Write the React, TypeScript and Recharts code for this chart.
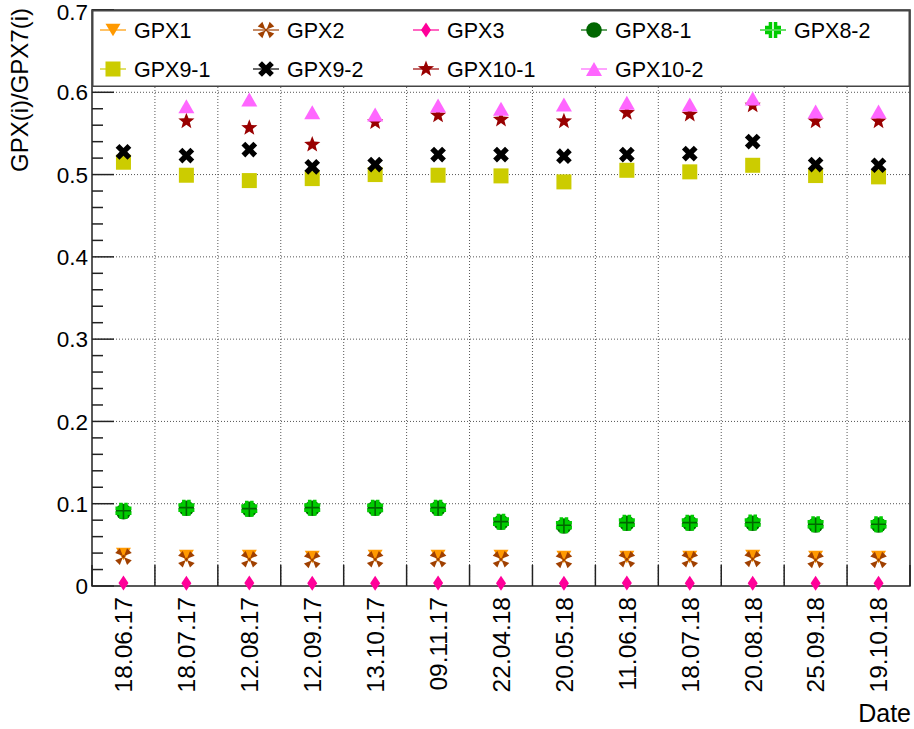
import React from 'react';
import { ScatterChart, Scatter, XAxis, YAxis, ReferenceLine, ReferenceArea, Label } from 'recharts';

const dates = ['18.06.17', '18.07.17', '12.08.17', '12.09.17', '13.10.17', '09.11.17', '22.04.18', '20.05.18', '11.06.18', '18.07.18', '20.08.18', '25.09.18', '19.10.18'];

const gpx1 = [0.0389, 0.0365, 0.0365, 0.0353, 0.0365, 0.0365, 0.0365, 0.0353, 0.0353, 0.0353, 0.0365, 0.0353, 0.0353];
const gpx2 = [0.0357, 0.0324, 0.0324, 0.0316, 0.0324, 0.0324, 0.0324, 0.0316, 0.0324, 0.0324, 0.0328, 0.0316, 0.0316];
const gpx3 = [0.0035, 0.0034, 0.0035, 0.0034, 0.0034, 0.0035, 0.0034, 0.0034, 0.0035, 0.0034, 0.0034, 0.0034, 0.0034];
const gpx81 = [0.0904, 0.0945, 0.0933, 0.0945, 0.0945, 0.0945, 0.0775, 0.0730, 0.0763, 0.0763, 0.0763, 0.0742, 0.0742];
const gpx82 = [0.0915, 0.0952, 0.0940, 0.0952, 0.0950, 0.0952, 0.0782, 0.0738, 0.0770, 0.0770, 0.0772, 0.0750, 0.0750];
const gpx91 = [0.5150, 0.4992, 0.4927, 0.4951, 0.5000, 0.4992, 0.4984, 0.4911, 0.5052, 0.5033, 0.5113, 0.4988, 0.4972];
const gpx92 = [0.5276, 0.5231, 0.5304, 0.5094, 0.5122, 0.5243, 0.5243, 0.5223, 0.5243, 0.5255, 0.5401, 0.5122, 0.5113];
const gpx101 = [null, 0.5648, 0.5568, 0.5365, 0.5636, 0.5718, 0.5669, 0.5648, 0.5751, 0.5730, 0.5840, 0.5648, 0.5648];
const gpx102 = [null, 0.5831, 0.5912, 0.5758, 0.5730, 0.5839, 0.5799, 0.5852, 0.5872, 0.5852, 0.5925, 0.5766, 0.5766];

const yTicks = [0, 0.02, 0.04, 0.06, 0.08, 0.1, 0.12, 0.14, 0.16, 0.18, 0.2, 0.22, 0.24, 0.26, 0.28, 0.3, 0.32, 0.34, 0.36, 0.38, 0.4, 0.42, 0.44, 0.46, 0.48, 0.5, 0.52, 0.54, 0.56, 0.58, 0.6, 0.62, 0.64, 0.66, 0.68, 0.7];
const xTicks = [0, 0.5, 1, 1.5, 2, 2.5, 3, 3.5, 4, 4.5, 5, 5.5, 6, 6.5, 7, 7.5, 8, 8.5, 9, 9.5, 10, 10.5, 11, 11.5, 12, 12.5, 13];
const gridY = [0.1, 0.2, 0.3, 0.4, 0.5, 0.6];
const gridX = [1, 2, 3, 4, 5, 6, 7, 8, 9, 10, 11, 12];

const FONT = '"Liberation Sans", Arial, Helvetica, sans-serif';
const AXIS = '#222';

type Shape = 'triDown' | 'fourTriX' | 'diamond' | 'circle' | 'fourSqPlus' | 'square' | 'crossX' | 'star' | 'triUp';

const series: { name: string; values: (number | null)[]; color: string; shape: Shape }[] = [
  { name: 'GPX1', values: gpx1, color: '#ff9900', shape: 'triDown' },
  { name: 'GPX2', values: gpx2, color: '#a04000', shape: 'fourTriX' },
  { name: 'GPX3', values: gpx3, color: '#ff0099', shape: 'diamond' },
  { name: 'GPX8-1', values: gpx81, color: '#006600', shape: 'circle' },
  { name: 'GPX8-2', values: gpx82, color: '#00cc00', shape: 'fourSqPlus' },
  { name: 'GPX9-1', values: gpx91, color: '#cccc00', shape: 'square' },
  { name: 'GPX9-2', values: gpx92, color: '#000000', shape: 'crossX' },
  { name: 'GPX10-1', values: gpx101, color: '#990000', shape: 'star' },
  { name: 'GPX10-2', values: gpx102, color: '#ff66ff', shape: 'triUp' },
];

const pts = (arr: number[][], cx: number, cy: number) => arr.map(([x, y]) => `${cx + x},${cy + y}`).join(' ');

function marker(shape: Shape, cx: number, cy: number, color: string, key?: string) {
  switch (shape) {
    case 'triDown':
      return <polygon key={key} points={pts([[-7.5, -6.3], [7.5, -6.3], [0, 6.3]], cx, cy)} fill={color} />;
    case 'triUp':
      return <polygon key={key} points={pts([[-8, 7], [8, 7], [0, -7]], cx, cy)} fill={color} />;
    case 'diamond':
      return <polygon key={key} points={pts([[0, -7.5], [5, 0], [0, 7.5], [-5, 0]], cx, cy)} fill={color} />;
    case 'circle':
      return <circle key={key} cx={cx} cy={cy} r={7.8} fill={color} />;
    case 'square':
      return <rect key={key} x={cx - 7.5} y={cy - 7.5} width={15} height={15} fill={color} />;
    case 'crossX': {
      const w = 2.7, e = 8.4;
      const p = [[-w, -e], [w, -e], [w, -w], [e, -w], [e, w], [w, w], [w, e], [-w, e], [-w, w], [-e, w], [-e, -w], [-w, -w]];
      return <polygon key={key} points={pts(p, cx, cy)} fill={color} transform={`rotate(45 ${cx} ${cy})`} />;
    }
    case 'star': {
      const p: number[][] = [];
      for (let i = 0; i < 10; i++) {
        const r = i % 2 === 0 ? 8.5 : 3.6;
        const a = -Math.PI / 2 + (i * Math.PI) / 5;
        p.push([r * Math.cos(a), r * Math.sin(a)]);
      }
      return <polygon key={key} points={pts(p, cx, cy)} fill={color} />;
    }
    case 'fourSqPlus': {
      const e = 8, a = 4.3, g = 0.8;
      const quads = [[1, 1], [1, -1], [-1, 1], [-1, -1]];
      return (
        <g key={key}>
          {quads.map(([sx, sy], i) => (
            <polygon key={i} points={pts([[g, g], [e, g], [e, a], [a, a], [a, e], [g, e]].map(([x, y]) => [x * sx, y * sy]), cx, cy)} fill={color} />
          ))}
        </g>
      );
    }
    case 'fourTriX': {
      const tris = [0, 1, 2, 3];
      return (
        <g key={key} transform={`rotate(45 ${cx} ${cy})`}>
          {tris.map((i) => (
            <polygon key={i} points={pts([[0, -0.8], [-3.3, -8.4], [3.3, -8.4]], 0, 0)} fill={color} transform={`translate(${cx} ${cy}) rotate(${i * 90})`} />
          ))}
          <rect x={cx - 1.3} y={cy - 1.3} width={2.6} height={2.6} fill={color} />
        </g>
      );
    }
  }
  return null;
}

const Y_MARGIN = 4;
const X_MARGIN = 0;

const isMajor = (v: number) => Math.abs(v * 10 - Math.round(v * 10)) < 1e-6;

const YTick = (p: any) => {
  const v = p.payload.value as number;
  const major = isMajor(v);
  const ax = p.x + Y_MARGIN;
  const top = v >= 0.7 - 1e-9;
  return (
    <g>
      <line x1={ax} x2={ax + (major ? 22 : 11)} y1={p.y} y2={p.y} stroke={AXIS} strokeWidth={1.5} />
      {major && (
        <text x={p.x} y={p.y + (top ? 1.5 : 0)} dy="0.36em" textAnchor="end" fontSize={22.5} fontFamily={FONT} fill="#000">
          {v === 0 ? '0' : v.toFixed(1)}
        </text>
      )}
    </g>
  );
};

const XTick = (p: any) => {
  const v = p.payload.value as number;
  const ay = p.y - X_MARGIN;
  if (Number.isInteger(v)) {
    return <line x1={p.x} x2={p.x} y1={ay} y2={ay - 21} stroke={AXIS} strokeWidth={1.5} />;
  }
  const label = dates[Math.floor(v)];
  const ty = ay + 11;
  return (
    <text x={p.x} y={ty} dy="0.36em" textAnchor="end" transform={`rotate(-90 ${p.x} ${ty})`} fontSize={24.5} fontFamily={FONT} fill="#000">
      {label}
    </text>
  );
};

const legendTextX = [134, 287, 447, 615, 794];
const legendRowY = [30, 69];

function LegendBox() {
  const left = 92, top = 10, w = 818, h = 77;
  return (
    <svg width={w} height={h} style={{ position: 'absolute', left, top }}>
      <rect x={0.75} y={0.75} width={w - 1.5} height={h - 1.5} fill="#fff" stroke="#444" strokeWidth={1.5} />
      {series.map((s, i) => {
        const tx = legendTextX[i % 5] - left;
        const cy = legendRowY[Math.floor(i / 5)] - top;
        const mx = tx - 21;
        return (
          <g key={s.name}>
            <line x1={mx - 13} x2={mx + 13} y1={cy} y2={cy} stroke={s.color} strokeWidth={1.2} />
            {marker(s.shape, mx, cy, s.color)}
            <text x={tx} y={cy} dy="0.36em" fontSize={21.5} fontFamily={FONT} fill="#000">
              {s.name}
            </text>
          </g>
        );
      })}
    </svg>
  );
}

export default function App() {
  return (
    <div style={{ position: 'absolute', left: 0, top: 0, width: 914, height: 729, background: '#fff' }}>
      <ScatterChart width={914} height={729} margin={{ top: 10, right: 4, bottom: 0, left: 0 }}>
        <XAxis
          type="number"
          dataKey="x"
          domain={[0, 13]}
          ticks={xTicks}
          interval={0}
          height={143}
          axisLine={false}
          tickLine={false}
          tickSize={0}
          tickMargin={X_MARGIN}
          tick={<XTick />}
          allowDecimals
        >
          <Label
            content={() => (
              <text x={911} y={722} textAnchor="end" fontSize={25} fontFamily={FONT} fill="#000">
                Date
              </text>
            )}
          />
        </XAxis>
        <YAxis
          type="number"
          dataKey="y"
          domain={[0, 0.7]}
          ticks={yTicks}
          interval={0}
          width={92}
          axisLine={false}
          tickLine={false}
          tickSize={0}
          tickMargin={Y_MARGIN}
          tick={<YTick />}
        >
          <Label
            content={() => (
              <text x={28} y={8} textAnchor="end" transform="rotate(-90 28 8)" fontSize={24} fontFamily={FONT} fill="#000">
                GPX(i)/GPX7(i)
              </text>
            )}
          />
        </YAxis>
        {gridY.map((v) => (
          <ReferenceLine key={`gy${v}`} y={v} stroke="#555" strokeDasharray="1 2" strokeWidth={1} />
        ))}
        {gridX.map((v) => (
          <ReferenceLine key={`gx${v}`} x={v} stroke="#555" strokeDasharray="1 2" strokeWidth={1} />
        ))}
        <ReferenceArea x1={0} x2={13} y1={0} y2={0.7} fill="none" stroke={AXIS} strokeWidth={1.5} />
        {series.map((s) => {
          const data = s.values
            .map((v, i) => (v == null ? null : { x: i + 0.5, y: v }))
            .filter((d) => d !== null) as { x: number; y: number }[];
          return (
            <Scatter
              key={s.name}
              name={s.name}
              data={data}
              isAnimationActive={false}
              shape={(p: any) => marker(s.shape, p.cx, p.cy, s.color)}
            />
          );
        })}
      </ScatterChart>
      <LegendBox />
    </div>
  );
}
